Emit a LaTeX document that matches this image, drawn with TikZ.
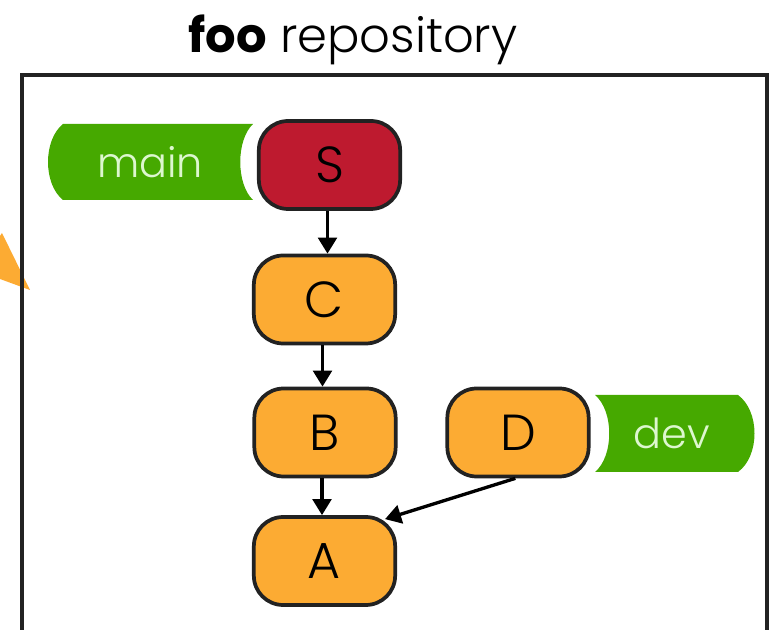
\documentclass[tikz,border=0pt]{standalone}
\usepackage{fontspec}
\setmainfont{Poppins}[UprightFont=* Light, BoldFont=* Bold]
\usetikzlibrary{arrows.meta}
\definecolor{corange}{HTML}{FCAB33}
\definecolor{cred}{HTML}{BE1A2F}
\definecolor{cgreen}{HTML}{46A900}
\definecolor{ctag}{HTML}{DDF7CF}
\definecolor{cline}{HTML}{222222}
\begin{document}
\begin{tikzpicture}[x=0.75pt,y=-0.75pt,
  commit/.style={draw=cline, line width=2.8pt, rounded corners=22pt,
    minimum width=106pt, minimum height=66pt, inner sep=0pt,
    font=\fontsize{38}{38}\selectfont},
  tagtext/.style={text=ctag, inner sep=0pt, font=\fontsize{31}{31}\selectfont},
  link/.style={draw=black, line width=2.5pt, -{Triangle[width=14pt,length=12pt]}},
  frame/.style={draw=cline, line width=2.5pt}]
\useasboundingbox (0,0) rectangle (779,630);
\clip (0,0) rectangle (779,630);
% partial arrow tip from a neighbouring drawing
\fill[corange] (0,236) -- (2,233) -- (30,290) -- (0,279) -- cycle;
% repository frame
\draw[frame] (22,680) -- (22,75) -- (767,75) -- (767,680);
\node[anchor=base, inner sep=0pt, font=\fontsize{36}{36}\selectfont] (title) at (353,53) {\textbf{foo} repository};
% branch tags
\fill[cgreen] (63,124) -- (253,124) .. controls (236,140) and (236,184) .. (253,200)
  -- (63,200) .. controls (43,184) and (43,140) .. (63,124) -- cycle;
\node[tagtext] (main) at (150,162) {main};
\fill[cgreen] (595,395) -- (738,395) .. controls (760,411) and (760,456) .. (738,472)
  -- (595,472) .. controls (614,456) and (614,411) .. (595,395) -- cycle;
\node[tagtext] (dev) at (672,433) {dev};
% commits
\node[commit, fill=cred] (S) at (329.5,165) {S};
\node[commit, fill=corange] (C) at (324.5,299.5) {C};
\node[commit, fill=corange] (B) at (325,432.5) {B};
\node[commit, fill=corange] (A) at (324.5,561) {A};
\node[commit, fill=corange] (D) at (518,432.5) {D};
% parent links
\draw[link] (S.south) ++(-2,0) coordinate (s1) -- (s1 |- C.north);
\draw[link] (C.south) ++(-2,0) coordinate (c1) -- (c1 |- B.north);
\draw[link] (B.south) ++(-3,0) coordinate (b1) -- (b1 |- A.north);
\draw[link] ([xshift=-2pt]D.south) -- ([shift={(-12,4)}]A.north east);
\end{tikzpicture}
\end{document}
